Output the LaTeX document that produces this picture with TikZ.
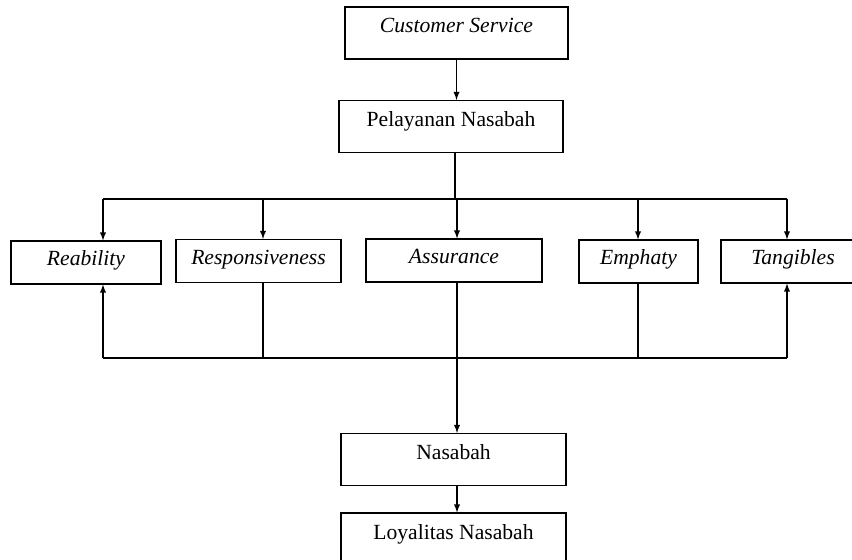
\documentclass[tikz,border=0pt]{standalone}
\usepackage{fontspec}
\setmainfont{Liberation Serif}
\usetikzlibrary{arrows,positioning}

\begin{document}
\begin{tikzpicture}[x=0.02cm, y=-0.02cm, >=latex, semithick,
    every node/.style={font=\fontsize{12.3}{14}\selectfont},
    kotak/.style={draw, inner sep=0pt, text height=0.52cm, text depth=0.52cm, minimum width=#1},
    kotakdim/.style={draw, inner sep=0pt, text height=0.5cm, text depth=0.36cm, minimum width=#1}]
    \useasboundingbox (0,0) rectangle (852,560);

    \node[kotak=4.46cm] (cs) at (456.5,33) {\textit{Customer Service}};
    \node[kotak=4.48cm] (pel) at (451,126.5) {Pelayanan Nasabah};

    \node[kotakdim=3.0cm] (reab) at (86,262.5) {\textit{Reability}};
    \node[kotakdim=3.3cm] (resp) at (258.5,261) {\textit{Responsiveness}};
    \node[kotakdim=3.52cm] (asr) at (454,260.5) {\textit{Assurance}};
    \node[kotakdim=2.38cm] (emp) at (638.5,261.5) {\textit{Emphaty}};
    \node[kotakdim=2.88cm] (tang) at (793,261.5) {\textit{Tangibles}};

    \node[kotak=4.5cm] (nas) at (453.5,459.5) {Nasabah};
    \node[kotak=4.5cm] (loy) at (453.5,539) {Loyalitas Nasabah};

    % upper bus
    \coordinate (top) at (455,199);
    \foreach \n/\x in {1/103,2/263,3/457,4/638,5/787}
        \coordinate (t\n) at (\x,199);
    % lower bus
    \foreach \n/\x in {1/103,2/263,3/457,4/638,5/787}
        \coordinate (b\n) at (\x,358);

    \draw[->] (cs.south) -- (cs.south |- pel.north);
    \draw (pel.south -| top) -- (top);
    \draw (t1) -- (t5);
    \foreach \n/\nm in {1/reab,2/resp,3/asr,4/emp,5/tang}
        \draw[->] (t\n) -- (t\n |- \nm.north);

    \draw (b1) -- (b5);
    \draw[->] (b1) -- (b1 |- reab.south);
    \draw[->] (b5) -- (b5 |- tang.south);
    \draw (resp.south -| b2) -- (b2);
    \draw (emp.south -| b4) -- (b4);
    \draw[->] (asr.south -| b3) -- (b3 |- nas.north);

    \draw[->] (nas.south -| b3) -- (b3 |- loy.north);
\end{tikzpicture}
\end{document}
